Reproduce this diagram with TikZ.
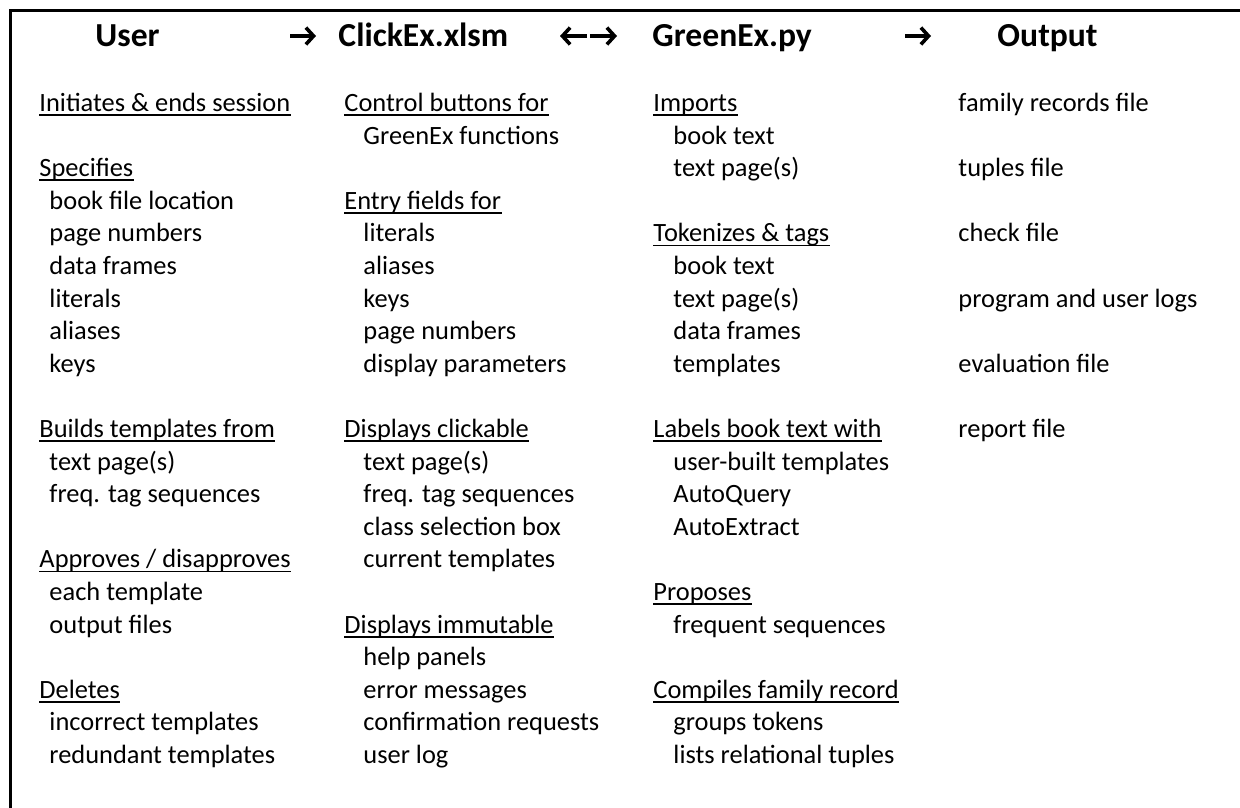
\documentclass[tikz,border=0pt]{standalone}
\usepackage{fontspec}
\usetikzlibrary{arrows.meta}
\setmainfont{Carlito}

% one unit = one pixel of a 1240 x 807 sheet (2.4 px per pt), y grows downwards
\tikzset{
  x=0.416667pt, y=-0.416667pt,
  txt/.style={anchor=base west, inner sep=0pt, font=\fontsize{11}{13.5}\selectfont},
  head/.style={anchor=base west, inner sep=0pt, font=\fontsize{14}{17}\selectfont\bfseries},
  harrow/.style={line width=1.5pt, -{Straight Barb[length=3.2pt, width=7pt, line width=1.5pt]}},
  uline/.style={line width=0.8pt},
  frame/.style={line width=1.25pt},
}

% row r of the body text sits at baseline 111.5 + (r-2)*32.6
\newcommand\ulnode[4]{%
  \node[txt] (#1) at (#2,{111.5+(#3-2)*32.6}) {#4};
  \draw[uline] ([yshift=-1.5pt]#1.base west) -- ([yshift=-1.5pt]#1.base east);
}
\newcommand\plainnode[4]{%
  \node[txt] (#1) at (#2,{111.5+(#3-2)*32.6}) {#4};
}

\begin{document}
\begin{tikzpicture}
\useasboundingbox (0,0) rectangle (1240,807);

% frame (only its top and left sides lie on the sheet)
\coordinate (fbl) at (10.5,1000);
\coordinate (ftl) at (10.5,10.5);
\coordinate (ftr) at (1500,10.5);
\draw[frame] (fbl) -- (ftl) -- (ftr);

% headings
\node[head] (hUser)   at (95,46.7)  {User};
\node[head] (hClick)  at (338,46.7) {ClickEx.xlsm};
\node[head] (hGreen)  at (652,46.7) {GreenEx.py};
\node[head] (hOut)    at (997,46.7) {Output};

% flow arrows between the headings
\coordinate (a1s) at (290,36);  \coordinate (a1e) at (316,36);
\coordinate (a2m) at (588.5,36);
\coordinate (a2l) at (560,36);  \coordinate (a2r) at (617,36);
\coordinate (a3s) at (905,36);  \coordinate (a3e) at (931,36);
\draw[harrow] (a1s) -- (a1e);
\draw[harrow] ([xshift=-0.6pt]a2m) -- (a2l);
\draw[harrow] ([xshift=0.6pt]a2m) -- (a2r);
\draw[harrow] (a3s) -- (a3e);

% column 1: User
\ulnode{u1}{39}{2}{Initiates \& ends session}
\ulnode{u2}{39}{4}{Specifies}
\plainnode{u2a}{49}{5}{book file location}
\plainnode{u2b}{49}{6}{page numbers}
\plainnode{u2c}{49}{7}{data frames}
\plainnode{u2d}{49}{8}{literals}
\plainnode{u2e}{49}{9}{aliases}
\plainnode{u2f}{49}{10}{keys}
\ulnode{u3}{39}{12}{Builds templates from}
\plainnode{u3a}{49}{13}{text page(s)}
\plainnode{u3b}{49}{14}{freq. tag sequences}
\ulnode{u4}{39}{16}{Approves / disapproves}
\plainnode{u4a}{49}{17}{each template}
\plainnode{u4b}{49}{18}{output files}
\ulnode{u5}{39}{20}{Deletes}
\plainnode{u5a}{49}{21}{incorrect templates}
\plainnode{u5b}{49}{22}{redundant templates}

% column 2: ClickEx.xlsm
\ulnode{c1}{344}{2}{Control buttons for}
\plainnode{c1a}{363}{3}{GreenEx functions}
\ulnode{c2}{344}{5}{Entry fields for}
\plainnode{c2a}{363}{6}{literals}
\plainnode{c2b}{363}{7}{aliases}
\plainnode{c2c}{363}{8}{keys}
\plainnode{c2d}{363}{9}{page numbers}
\plainnode{c2e}{363}{10}{display parameters}
\ulnode{c3}{344}{12}{Displays clickable}
\plainnode{c3a}{363}{13}{text page(s)}
\plainnode{c3b}{363}{14}{freq. tag sequences}
\plainnode{c3c}{363}{15}{class selection box}
\plainnode{c3d}{363}{16}{current templates}
\ulnode{c4}{344}{18}{Displays immutable}
\plainnode{c4a}{363}{19}{help panels}
\plainnode{c4b}{363}{20}{error messages}
\plainnode{c4c}{363}{21}{confirmation requests}
\plainnode{c4d}{363}{22}{user log}

% column 3: GreenEx.py
\ulnode{g1}{653}{2}{Imports}
\plainnode{g1a}{673}{3}{book text}
\plainnode{g1b}{673}{4}{text page(s)}
\ulnode{g2}{653}{6}{Tokenizes \& tags}
\plainnode{g2a}{673}{7}{book text}
\plainnode{g2b}{673}{8}{text page(s)}
\plainnode{g2c}{673}{9}{data frames}
\plainnode{g2d}{673}{10}{templates}
\ulnode{g3}{653}{12}{Labels book text with}
\plainnode{g3a}{673}{13}{user-built templates}
\plainnode{g3b}{673}{14}{AutoQuery}
\plainnode{g3c}{673}{15}{AutoExtract}
\ulnode{g4}{653}{17}{Proposes}
\plainnode{g4a}{673}{18}{frequent sequences}
\ulnode{g5}{653}{20}{Compiles family record}
\plainnode{g5a}{673}{21}{groups tokens}
\plainnode{g5b}{673}{22}{lists relational tuples}

% column 4: Output
\plainnode{o1}{958}{2}{family records file}
\plainnode{o2}{958}{4}{tuples file}
\plainnode{o3}{958}{6}{check file}
\plainnode{o4}{958}{8}{program and user logs}
\plainnode{o5}{958}{10}{evaluation file}
\plainnode{o6}{958}{12}{report file}
\end{tikzpicture}
\end{document}
